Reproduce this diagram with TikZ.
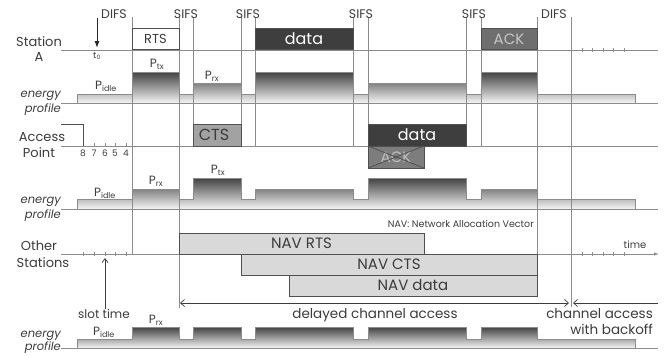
\documentclass[tikz,border=0pt]{standalone}
\usepackage{fontspec}
\setmainfont{Poppins}
\usetikzlibrary{arrows.meta}
\definecolor{txt}{HTML}{3C3C3C}
\definecolor{ln}{HTML}{8C8C8C}
\definecolor{bx}{HTML}{505050}
\definecolor{darkbox}{HTML}{3E3E3E}
\definecolor{midbox}{HTML}{6E6E6E}
\definecolor{ctsbox}{HTML}{A2A2A2}
\definecolor{navbox}{HTML}{D9D9D9}
\newcommand\fsz[1]{\fontsize{#1}{#1}\selectfont}
\tikzset{
  lab/.style={text=txt, inner sep=0pt, font=\fsz{13}},
  elab/.style={text=txt, inner sep=0pt, anchor=east, font=\fsz{11.5}\itshape},
  ifs/.style={text=txt, inner sep=0pt, font=\fsz{12.5}},
  plab/.style={text=txt, inner sep=0pt, font=\fsz{12}},
  vline/.style={draw=ln, line width=0.8pt},
  baseln/.style={draw=ln, line width=0.8pt},
  tick/.style={draw=ln, line width=0.6pt},
  frame/.style={draw=bx, line width=0.8pt, inner sep=0pt, outer sep=0pt},
  profile/.style={draw=ln, line width=0.7pt, top color=black!74, bottom color=black!4},
}
\begin{document}
\begin{tikzpicture}[x=1pt,y=-1pt]
\useasboundingbox (0,0) rectangle (667,356);
\fill[white] (0,0) rectangle (667,356);

% ---------- energy profiles ----------
\path[profile] (77,103) -- (77,94) -- (132,94) -- (132,72) -- (179,72) -- (179,94) -- (193,94) -- (193,83) -- (241,83) -- (241,94) -- (255,94) -- (255,72) -- (353,72) -- (353,94) -- (368,94) -- (368,83) -- (466,83) -- (466,94) -- (481,94) -- (481,72) -- (537,72) -- (537,94) -- (635,94) -- (635,103) -- cycle;
\path[profile] (77,209) -- (77,199) -- (132,199) -- (132,189) -- (179,189) -- (179,199) -- (193,199) -- (193,178) -- (241,178) -- (241,199) -- (255,199) -- (255,189) -- (353,189) -- (353,199) -- (368,199) -- (368,178) -- (466,178) -- (466,199) -- (481,199) -- (481,189) -- (537,189) -- (537,199) -- (635,199) -- (635,209) -- cycle;
\path[profile] (77,348) -- (77,339) -- (132,339) -- (132,327) -- (179,327) -- (179,339) -- (193,339) -- (193,327) -- (241,327) -- (241,339) -- (255,339) -- (255,327) -- (353,327) -- (353,339) -- (368,339) -- (368,327) -- (466,327) -- (466,339) -- (481,339) -- (481,327) -- (537,327) -- (537,339) -- (635,339) -- (635,348) -- cycle;

% ---------- vertical time lines ----------
\foreach \x in {193,241,255,353,368,466,481}{
  \coordinate (vt\x) at (\x,17); \coordinate (vb\x) at (\x,146);
  \draw[vline] (vt\x) -- (vb\x);
}
\coordinate (vt132) at (132,17); \coordinate (vb132) at (132,254);
\coordinate (vt179) at (179,17); \coordinate (vb179) at (179,308);
\coordinate (vt537) at (537,17); \coordinate (vb537) at (537,296);
\coordinate (vt571) at (571,17); \coordinate (vb571) at (571,307);
\draw[vline] (vt132) -- (vb132);
\draw[vline] (vt179) -- (vb179);
\draw[vline] (vt537) -- (vb537);
\draw[vline] (vt571) -- (vb571);

% ---------- base lines ----------
\coordinate (aL) at (61,50);  \coordinate (aR) at (658,50);
\coordinate (e1L) at (61,103); \coordinate (e1R) at (658,103);
\coordinate (pL) at (61,146); \coordinate (pR) at (658,146);
\coordinate (e2L) at (61,209); \coordinate (e2R) at (658,209);
\coordinate (oL) at (61,254); \coordinate (oR) at (659,254);
\coordinate (e3L) at (61,348); \coordinate (e3R) at (658,348);
\draw[baseln] (aL) -- (aR);
\draw[baseln] (e1L) -- (e1R);
\draw[baseln] (pL) -- (pR);
\draw[baseln] (e2L) -- (e2R);
\draw[baseln, -{Latex[length=5pt,width=3.5pt]}] (oL) -- (oR);
\draw[baseln] (e3L) -- (e3R);

% access point step
\coordinate (stp1) at (61,124); \coordinate (stp2) at (83,124); \coordinate (stp3) at (83,146);
\draw[draw=bx, line width=0.8pt] (stp1) -- (stp2) -- (stp3);

% ticks
\foreach \x in {582,592,603,613,624}{
  \draw[tick] (\x,48) -- (\x,52);
  \draw[tick] (\x,252) -- (\x,256);
}
\foreach \x in {83,94,105,115,126}{
  \draw[tick] (\x,252) -- (\x,256);
}
\foreach \x in {94,105,115,126}{
  \draw[tick] (\x,143) -- (\x,146);
}
\foreach \x/\n in {83/8,94/7,105/6,115/5,126/4}{
  \node[text=txt, inner sep=0pt, font=\fsz{9}] (d\n) at (\x,153) {\n};
}

% ---------- boxes ----------
\node[frame, fill=white, minimum width=47pt, minimum height=21.5pt, text=txt, font=\fsz{13}] (rts) at (155.5,38.75) {RTS};
\node[frame, fill=darkbox, minimum width=98pt, minimum height=21.5pt, text=white, font=\fsz{16}] (dataA) at (304,38.75) {data};
\node[frame, fill=midbox, minimum width=56pt, minimum height=21.5pt, text=black!22, font=\fsz{15}] (ackA) at (509,38.75) {ACK};
\node[frame, fill=ctsbox, minimum width=48pt, minimum height=22pt] (cts) at (217,135) {};
\node[text=txt, inner sep=0pt, font=\fsz{16}] (ctstext) at (214,135) {CTS};
\node[frame, fill=darkbox, minimum width=98pt, minimum height=22pt, text=white, font=\fsz{16}] (dataP) at (417,135) {data};
\node[frame, fill=midbox!90, minimum width=56pt, minimum height=22pt, text=black!25, font=\fsz{15}] (ackP) at (396,157) {ACK};
\draw[draw=bx, line width=0.8pt] (ackP.north west) -- (ackP.south east);
\draw[draw=bx, line width=0.8pt] (ackP.south west) -- (ackP.north east);

\node[frame, fill=navbox, minimum width=245pt, minimum height=21pt, text=txt, font=\fsz{15}] (navrts) at (301.5,243.5) {NAV RTS};
\node[frame, fill=navbox, minimum width=296pt, minimum height=21pt, text=txt, font=\fsz{15}] (navcts) at (389,264.5) {NAV CTS};
\node[frame, fill=navbox, minimum width=248pt, minimum height=21pt, text=txt, font=\fsz{15}] (navdata) at (413,285.5) {NAV data};

% ---------- labels ----------
\node[lab] (sa1) at (39,42) {Station};
\node[lab] (sa2) at (39,57) {A};
\node[lab] (ap1) at (42,137) {Access};
\node[lab] (ap2) at (39,153) {Point};
\node[lab] (os1) at (39,246) {Other};
\node[lab] (os2) at (43,263) {Stations};

\node[elab] (en1) at (61,96) {energy};
\node[elab] (pr1) at (61,110) {profile};
\node[elab] (en2) at (61,202) {energy};
\node[elab] (pr2) at (61,216) {profile};
\node[elab] (en3) at (61,336) {energy};
\node[elab] (pr3) at (61,348) {profile};

\node[ifs] (difs1) at (114,14) {DIFS};
\node[ifs] (sifs1) at (186,14) {SIFS};
\node[ifs] (sifs2) at (248,14) {SIFS};
\node[ifs] (sifs3) at (361,14) {SIFS};
\node[ifs] (sifs4) at (474,14) {SIFS};
\node[ifs] (difs2) at (554,14) {DIFS};

% t0 arrow
\coordinate (t0top) at (97,18); \coordinate (t0bot) at (97,48);
\draw[draw=black!85, line width=1pt, -{Latex[length=7pt,width=5pt]}] (t0top) -- (t0bot);
\node[text=txt, inner sep=0pt, font=\fsz{9}] (t0) at (97,56) {t\textsubscript{0}};

% power labels
\node[plab] (pi1) at (106,86) {P\textsubscript{idle}};
\node[plab] (pt1) at (157,64) {P\textsubscript{tx}};
\node[plab] (pr1l) at (212,76) {P\textsubscript{rx}};
\node[plab] (pi2) at (105,193) {P\textsubscript{idle}};
\node[plab] (pr2l) at (156,181) {P\textsubscript{rx}};
\node[plab] (pt2) at (218,170) {P\textsubscript{tx}};
\node[plab] (pi3) at (104,332) {P\textsubscript{idle}};
\node[plab] (pr3l) at (156,320) {P\textsubscript{rx}};

% NAV caption, time
\node[text=txt, inner sep=0pt, anchor=east, font=\fsz{9.5}] (navcap) at (534,224) {NAV: Network Allocation Vector};
\node[text=txt, inner sep=0pt, font=\fsz{10}] (time) at (635,245) {time};

% slot time
\node[text=txt, inner sep=0pt, font=\fsz{12}] (slot) at (104,314) {slot time};
\coordinate (slottop) at (105,258);
\draw[draw=txt, line width=0.7pt, -{Straight Barb[length=4pt,width=6pt]}] (slot.north -| slottop) -- (slottop);

% delayed channel access
\coordinate (dL) at (180,303); \coordinate (dR) at (569,303);
\coordinate (cL) at (573,303); \coordinate (cR) at (658,303);
\draw[draw=txt, line width=0.7pt, {Straight Barb[length=4pt,width=7pt]}-{Straight Barb[length=4pt,width=7pt]}] (dL) -- (dR);
\draw[draw=txt, line width=0.7pt, {Straight Barb[length=4pt,width=7pt]}-] (cL) -- (cR);
\node[text=txt, inner sep=0pt, font=\fsz{13.5}] (dca) at (375,315) {delayed channel access};
\node[text=txt, inner sep=0pt, anchor=east, font=\fsz{13.5}] (ca1) at (653,314) {channel access};
\node[text=txt, inner sep=0pt, anchor=east, font=\fsz{13.5}] (ca2) at (653,329) {with backoff};
\end{tikzpicture}
\end{document}
